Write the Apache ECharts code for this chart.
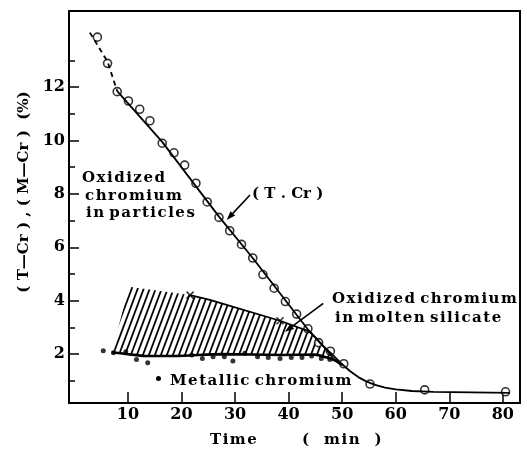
<!DOCTYPE html>
<html>
<head>
<meta charset="utf-8">
<script src="https://cdn.jsdelivr.net/npm/echarts@6/dist/echarts.min.js"></script>
<style>
  html, body { margin: 0; padding: 0; background: #fff; }
  #main { width: 527px; height: 449px; }
</style>
</head>
<body>
<div id="main"></div>
<script>
// total chromium (open circles), [time, %]
var totalCr = [[4.3,13.87],[6.2,12.89],[8.0,11.83],[10.1,11.48],[12.2,11.17],[14.1,10.74],
  [16.4,9.9],[18.6,9.54],[20.6,9.08],[22.7,8.40],[24.8,7.7],[27.0,7.12],[29.0,6.62],
  [31.2,6.11],[33.3,5.6],[35.2,4.98],[37.3,4.47],[39.4,3.97],[41.5,3.5],[43.6,2.95],
  [45.6,2.43],[47.8,2.11],[50.3,1.64],[55.2,0.88],[65.4,0.66],[80.5,0.59]];
// drawn curve through the T.Cr points
var totalCrDash = [[2.9,14.04],[6.2,12.95],[8.0,11.85]];
var totalCrFit = [[8.0,11.85],[16.4,9.95],[27.0,7.15],[33.3,5.6],[43.5,2.95],[46.5,2.3],
  [48.5,1.92],[50,1.62],[51.5,1.36],[53,1.14],[54.5,0.98],[56,0.86],[58,0.75],[60,0.68],
  [63,0.62],[67,0.59],[81.3,0.55]];
// metallic chromium (dots)
var metalCr = [[5.4,2.13],[7.3,2.05],[9.6,2.09],[11.6,1.80],[13.7,1.68],[21.9,1.97],
  [23.9,1.84],[25.9,1.90],[28.0,1.90],[29.6,1.74],[31.8,2.03],[34.2,1.90],[36.2,1.87],
  [38.4,1.84],[40.5,1.87],[42.5,1.87],[44.3,1.93],[46.1,1.84],[47.7,1.8]];
var metalFit = [[7.0,2.07],[10,2.0],[13.2,1.93],[18.8,1.93],[27.5,2.0],[38.7,1.97],
  [44.9,1.98],[47,1.88],[48.5,1.78],[50,1.6]];
// oxidized chromium in molten silicate, upper boundary
var silicateLine = [[21.6,4.21],[25.3,4.03],[38.4,3.25],[43.95,2.84],[46.8,2.22],[48.5,1.8]];
var silicateMarks = [[21.6,4.21],[38.4,3.25]];
var hatchLeft = [[10.2,4.52]];

var xTicks = [10,20,30,40,50,60,70,80];
var yTicks = [2,4,6,8,10,12];
var yMinor = [1,3,5,7,9,11,13];

var FONT = 'DejaVu Serif';
function sp(s) { return s.split('').join('\u200A'); }

// hatch pattern "/"
var TW = 6, TH = 16;
var pc = document.createElement('canvas');
pc.width = TW; pc.height = TH;
var ctx = pc.getContext('2d');
ctx.strokeStyle = '#000';
ctx.lineWidth = 1.8;
for (var k = -1; k <= 1; k++) {
  ctx.beginPath();
  ctx.moveTo(k * TW - 0.6, TH + 1.6);
  ctx.lineTo(k * TW + TW + 0.6, -1.6);
  ctx.stroke();
}

var hatchPoly = hatchLeft.concat(silicateLine, metalFit.slice(0, 9).reverse());

function arrow(x1, y1, x2, y2) {
  var a = Math.atan2(y2 - y1, x2 - x1), L = 9, W = 3.2;
  var bx = x2 - L * Math.cos(a), by = y2 - L * Math.sin(a);
  return [
    { type: 'line', shape: { x1: x1, y1: y1, x2: bx, y2: by }, style: { stroke: '#000', lineWidth: 1.6 } },
    { type: 'polygon', shape: { points: [[x2, y2],
        [bx + W * Math.sin(a), by - W * Math.cos(a)],
        [bx - W * Math.sin(a), by + W * Math.cos(a)]] }, style: { fill: '#000' } }
  ];
}

function txt(x, y, s, align) {
  return { type: 'text', x: x, y: y, style: { text: s, fill: '#000',
    font: 'bold 15px "' + FONT + '"', align: align || 'left', verticalAlign: 'middle' } };
}

var myChart = echarts.init(document.getElementById('main'));
var graphics = [
  txt(82, 178, sp('Oxidized')),
  txt(85, 196, sp('chromium')),
  txt(86, 213, sp('in') + ' ' + sp('particles')),
  txt(252, 194, '( T . Cr )'),
  txt(332, 299, sp('Oxidized') + ' ' + sp('chromium')),
  txt(335, 318, sp('in') + ' ' + sp('molten') + ' ' + sp('silicate')),
  { type: 'circle', shape: { cx: 158.5, cy: 378.5, r: 2.5 }, style: { fill: '#000' } },
  txt(170, 381, sp('Metallic') + ' ' + sp('chromium')),
  txt(210, 440, sp('Time')),
  txt(302, 440, '(\u2003' + sp('min') + '\u2003)'),
  { type: 'text', x: 24, y: 192, rotation: Math.PI / 2,
    style: { text: '( T—Cr ) , ( M—Cr )  (%)', fill: '#000', font: 'bold 15px "' + FONT + '"',
      align: 'center', verticalAlign: 'middle' } }
].concat(arrow(250, 195, 226.7, 220), arrow(323.3, 303.3, 285, 331.7));

var option = {
  animation: false,
  backgroundColor: '#fff',
  grid: { left: 69, right: 7, top: 11, bottom: 46, show: true, borderColor: '#000', borderWidth: 2 },
  xAxis: {
    type: 'value', min: -1, max: 83.2,
    axisLine: { show: true, onZero: false, lineStyle: { color: '#000', width: 2 } },
    axisTick: { inside: true, length: 11, customValues: xTicks, lineStyle: { color: '#000', width: 1.5 } },
    axisLabel: { customValues: xTicks, color: '#000', fontFamily: FONT, fontWeight: 'bold', fontSize: 16, margin: 4 },
    splitLine: { show: false }
  },
  yAxis: [{
    type: 'value', min: 0.17, max: 14.85,
    axisLine: { show: true, onZero: false, lineStyle: { color: '#000', width: 2 } },
    axisTick: { inside: true, length: 10, customValues: yTicks, lineStyle: { color: '#000', width: 1.5 } },
    axisLabel: { customValues: yTicks, color: '#000', fontFamily: FONT, fontWeight: 'bold', fontSize: 16, margin: 4 },
    splitLine: { show: false }
  }, {
    type: 'value', min: 0.17, max: 14.85, position: 'left',
    axisLine: { show: false, onZero: false },
    axisTick: { show: true, inside: true, length: 6, customValues: yMinor, lineStyle: { color: '#000', width: 1.5 } },
    axisLabel: { show: false },
    splitLine: { show: false }
  }],
  graphic: graphics,
  series: [
    {
      type: 'custom', coordinateSystem: 'cartesian2d', silent: true,
      data: [[0, 0]],
      renderItem: function (params, api) {
        return { type: 'polygon', shape: { points: hatchPoly.map(function (p) { return api.coord(p); }) },
          style: { fill: { image: pc, repeat: 'repeat' } } };
      }
    },
    { type: 'line', data: totalCrDash, symbol: 'none', lineStyle: { color: '#000', width: 1.8, type: [5, 4] } },
    { type: 'line', data: totalCrFit, symbol: 'none', lineStyle: { color: '#000', width: 1.8 } },
    { type: 'line', data: metalFit, symbol: 'none', smooth: 0.2, lineStyle: { color: '#000', width: 2.6 } },
    { type: 'line', data: silicateLine, symbol: 'none', lineStyle: { color: '#000', width: 1.8 } },
    { type: 'scatter', data: silicateMarks, symbol: 'path://M0,0L10,10M10,0L0,10', symbolSize: 7,
      itemStyle: { color: 'none', borderColor: '#000', borderWidth: 1.5 } },
    { type: 'scatter', data: metalCr, symbol: 'circle', symbolSize: 5, itemStyle: { color: '#000' } },
    { type: 'scatter', data: totalCr, symbol: 'circle', symbolSize: 8,
      itemStyle: { color: '#fff', borderColor: '#000', borderWidth: 1.6 } }
  ]
};

if (option && typeof option === 'object') {
  myChart.setOption(option, true);
}
</script>
</body>
</html>
